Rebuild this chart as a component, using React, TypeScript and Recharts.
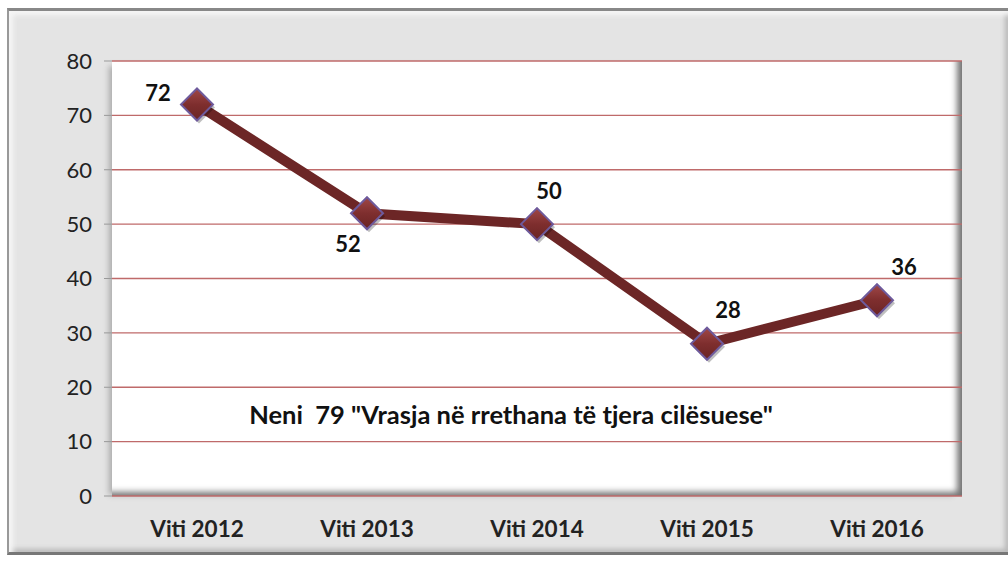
import React from 'react';
import { LineChart, Line, XAxis, YAxis, CartesianGrid, LabelList } from 'recharts';

const categories = ['Viti 2012', 'Viti 2013', 'Viti 2014', 'Viti 2015', 'Viti 2016'];
const values = [72, 52, 50, 28, 36];
const yTicks = [0, 10, 20, 30, 40, 50, 60, 70, 80];
const boundaryTicks = [-0.5, 0.5, 1.5, 2.5, 3.5, 4.5];
const labelPlacement = ['left', 'bottomLeft', 'top', 'topRight', 'topRight'];
const annotation = 'Neni  79 "Vrasja në rrethana të tjera cilësuese"';

const data = categories.map((c, i) => ({ idx: i, name: c, value: values[i] }));

const FONT = 'Lato, "Open Sans", sans-serif';

const Diamond = (props: any) => {
  const { cx, cy, index } = props;
  if (cx == null || cy == null) return null;
  const r = 16;
  const pts = `${cx},${cy - r} ${cx + r},${cy} ${cx},${cy + r} ${cx - r},${cy}`;
  return (
    <g key={`d${index}`}>
      <polygon points={pts} fill="rgba(0,0,0,0.25)" transform="translate(2,3)" />
      <polygon points={pts} fill="url(#diamondGrad)" stroke="#6e5a9c" strokeWidth={2} />
    </g>
  );
};

const offsets: Record<string, [number, number]> = {
  left: [-39, -12],
  bottomLeft: [-19, 30],
  top: [12, -34],
  topRight: [21, -34],
};

const DataLabel = (props: any) => {
  const { x, y, value, index } = props;
  const place = labelPlacement[index] || 'top';
  let [dx, dy] = offsets[place];
  if (index === 4) dx = 27;
  return (
    <text
      x={x + dx}
      y={y + dy}
      textAnchor="middle"
      dominantBaseline="central"
      fontFamily={FONT}
      fontWeight={700}
      fontSize={22}
      fill="#111"
    >
      {value}
    </text>
  );
};

export default function App() {
  return (
    <div style={{ position: 'fixed', left: 0, top: 0, width: 1008, height: 563, background: '#fff', fontFamily: FONT }}>
      <div
        style={{
          position: 'absolute',
          left: 7,
          top: 8,
          width: 1001,
          height: 547,
          boxSizing: 'border-box',
          background: '#e4e4e4',
          borderTop: '3px solid #888',
          borderLeft: '2px solid #999',
          borderBottom: '3px solid #777',
          boxShadow: 'inset 4px 4px 5px #f6f6f6, inset -3px -3px 5px #b8b8b8',
        }}
      />
      <div
        style={{
          position: 'absolute',
          left: 112,
          top: 61,
          width: 850,
          height: 435,
          background: '#fff',
          boxShadow: 'inset -9px -8px 6px -4px rgba(0,0,0,0.55), -6px 2px 6px -3px rgba(0,0,0,0.25)',
        }}
      />
      <div style={{ position: 'absolute', left: 0, top: 0 }}>
        <LineChart width={1008} height={563} data={data} margin={{ top: 61, right: 46, bottom: 27, left: 52 }}>
          <defs>
            <linearGradient id="diamondGrad" x1="0" y1="0" x2="0" y2="1">
              <stop offset="0%" stopColor="#a04848" />
              <stop offset="50%" stopColor="#7e2e2e" />
              <stop offset="100%" stopColor="#6a2424" />
            </linearGradient>
          </defs>
          <CartesianGrid vertical={false} stroke="#bf6a6a" strokeWidth={1.3} />
          <XAxis
            xAxisId="b"
            type="number"
            dataKey="idx"
            domain={[-0.5, 4.5]}
            ticks={boundaryTicks}
            tickFormatter={() => ''}
            axisLine={false}
            tickLine={{ stroke: '#999', strokeWidth: 1 }}
            tickSize={7}
            height={0}
          />
          <XAxis
            type="number"
            dataKey="idx"
            domain={[-0.5, 4.5]}
            ticks={[0, 1, 2, 3, 4]}
            tickFormatter={(v: number) => categories[v]}
            axisLine={false}
            tickLine={false}
            tickSize={0}
            tickMargin={25}
            height={40}
            tick={{ fontFamily: FONT, fontWeight: 700, fontSize: 22.5, fill: '#222' }}
            interval={0}
          />
          <YAxis
            domain={[0, 80]}
            ticks={yTicks}
            width={60}
            axisLine={false}
            tickLine={{ stroke: '#999', strokeWidth: 1 }}
            tickSize={8}
            tickMargin={12}
            tick={{ fontFamily: FONT, fontSize: 22, fill: '#222' }}
            interval={0}
          />
          <Line
            type="linear"
            dataKey="value"
            stroke="#6c2626"
            strokeWidth={10}
            dot={<Diamond />}
            activeDot={false}
            isAnimationActive={false}
          >
            <LabelList dataKey="value" content={<DataLabel />} />
          </Line>
        </LineChart>
      </div>
      <div
        style={{
          position: 'absolute',
          left: 112,
          width: 798,
          top: 399,
          textAlign: 'center',
          fontFamily: FONT,
          fontWeight: 700,
          fontSize: 25.5,
          color: '#111',
          whiteSpace: 'pre',
        }}
      >
        {annotation}
      </div>
    </div>
  );
}
